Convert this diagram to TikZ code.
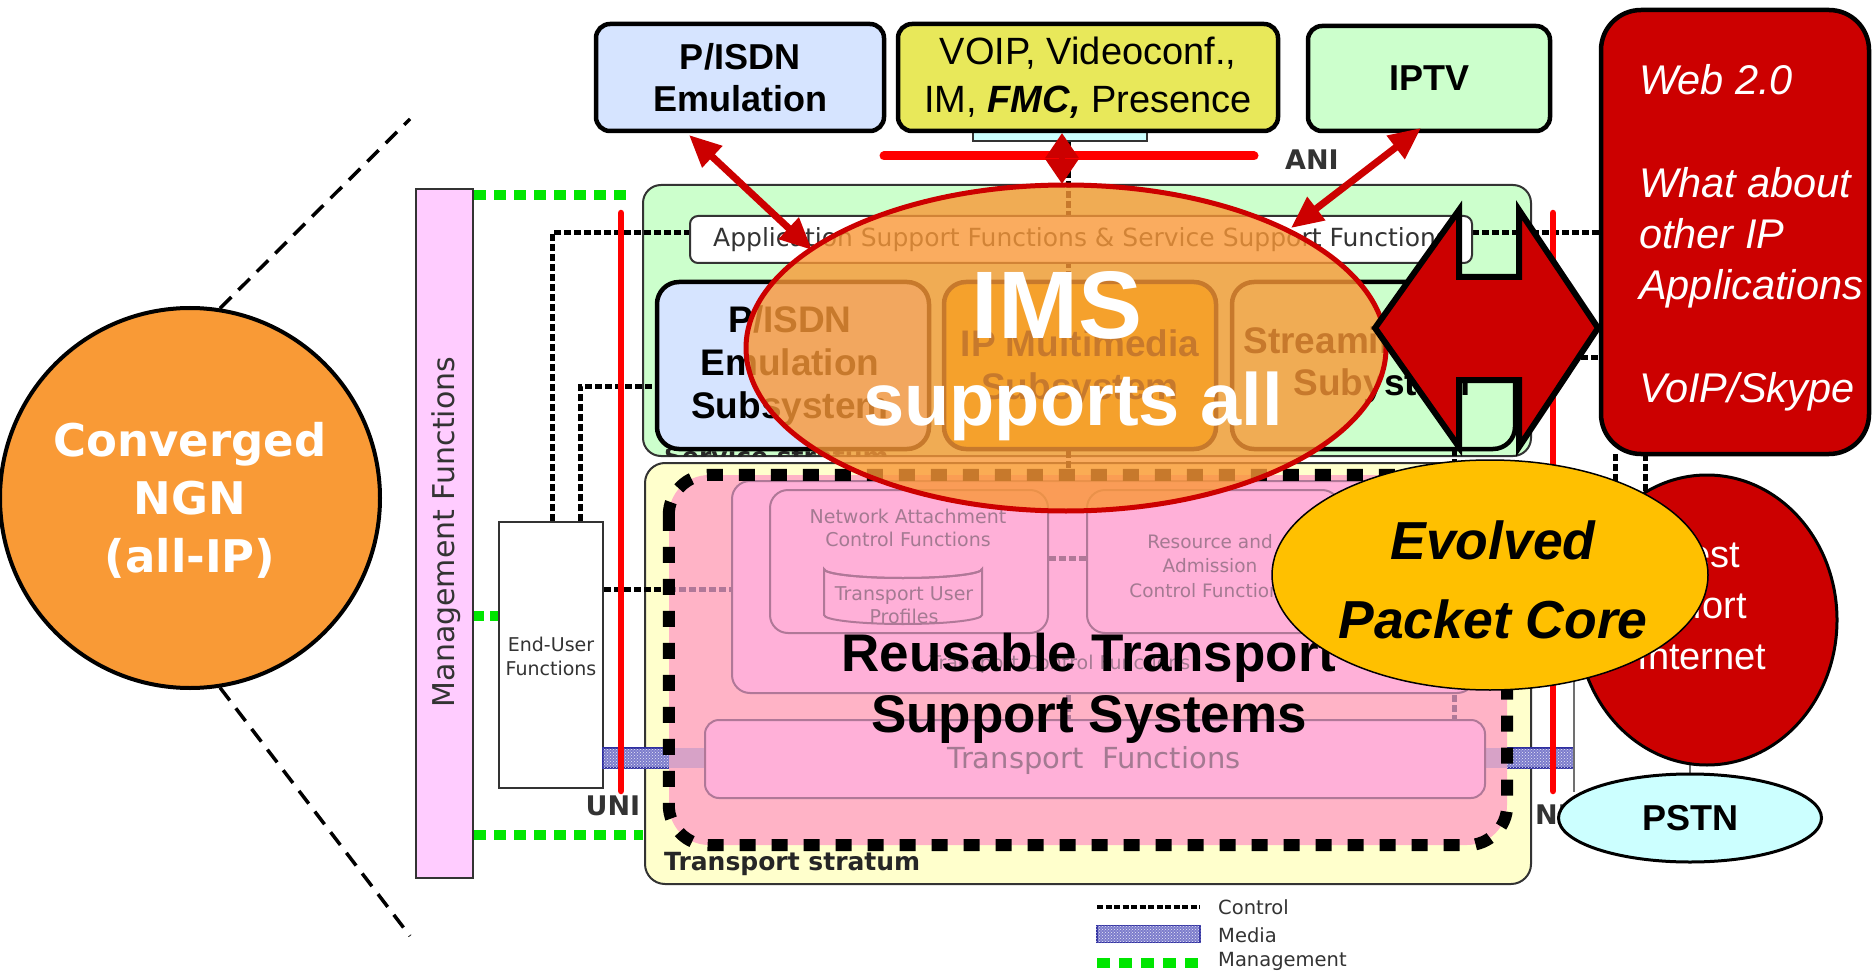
\documentclass[tikz,border=0pt]{standalone}
\usepackage{fontspec}
\setmainfont{Liberation Sans}
\newfontfamily\dvs{DejaVu Sans}
\usetikzlibrary{arrows.meta,shapes.geometric,shapes.misc,patterns}
\definecolor{ngnorange}{HTML}{F99A36}
\definecolor{mgmtpink}{HTML}{FFCCFF}
\definecolor{mgmtgreen}{HTML}{00E600}
\definecolor{svcgreen}{HTML}{CCFFCC}
\definecolor{isdnblue}{HTML}{D6E4FF}
\definecolor{voipyellow}{HTML}{E8E85A}
\definecolor{webred}{HTML}{CC0000}
\definecolor{trpyellow}{HTML}{FFFFCC}
\definecolor{rtpink}{HTML}{FFB3C6}
\definecolor{innerpink}{HTML}{FFB0D8}
\definecolor{mauve}{HTML}{B07898}
\definecolor{mauvetext}{HTML}{A47A92}
\definecolor{mediablue}{HTML}{7C7CCC}
\definecolor{mediaedge}{HTML}{2F2FA0}
\definecolor{imsorange}{HTML}{F99837}
\definecolor{imsbox}{HTML}{E6C800}
\definecolor{epcyellow}{HTML}{FFC000}
\definecolor{pstncyan}{HTML}{CCFFFF}
\definecolor{refred}{HTML}{FF0000}
\definecolor{dgray}{HTML}{333333}
\tikzset{
  topbox/.style={draw=black, line width=4.5pt, rounded corners=14pt, align=center, inner sep=0pt},
  subbox/.style={draw=black, line width=4.5pt, rounded corners=22pt, inner sep=0pt},
  ctrl/.style={draw=black, line width=5pt, dash pattern=on 7pt off 3pt},
  ctrlm/.style={draw=mauve, line width=5pt, dash pattern=on 7pt off 3pt},
  mgmtline/.style={draw=mgmtgreen, line width=10pt, dash pattern=on 12pt off 8pt},
  refline/.style={draw=refred, line width=6.5pt, line cap=round},
  redarrow/.style={draw=webred, line width=7pt, arrows={Triangle[length=32pt,width=28pt]-Triangle[length=32pt,width=28pt]}},
  zoomline/.style={draw=black, line width=3.5pt, dash pattern=on 16pt off 10pt},
  innerbox/.style={draw=mauve, fill=innerpink, line width=2pt, rounded corners=18pt, inner sep=0pt},
  graytxt/.style={font=\dvs\fontsize{19}{23}\selectfont, text=mauvetext, align=center, inner sep=0pt},
  mediabar/.style={fill=mediablue, draw=mediaedge, line width=1.5pt},
  mediadots/.style={pattern=crosshatch dots, pattern color=white!85!mediablue},
  bigbold/.style={font=\bfseries\fontsize{37}{43}\selectfont, align=center, inner sep=0pt},
  reflabel/.style={font=\dvs\bfseries\fontsize{27}{30}\selectfont, text=dgray, inner sep=0pt},
  legendtxt/.style={font=\dvs\fontsize{19.5}{22}\selectfont, text=dgray, anchor=west, inner sep=0pt},
  webtxt/.style={font=\itshape\fontsize{41.5}{51}\selectfont, text=white, anchor=base west, inner sep=0pt}
}
\begin{document}
\begin{tikzpicture}[x=1pt,y=-1pt]
\useasboundingbox (0,0) rectangle (1873,973);
\fill[white] (0,0) rectangle (1873,973);

% Converged NGN
\node[circle, draw=black, line width=4pt, fill=ngnorange, minimum size=380pt, inner sep=0pt] (ngn) at (190,498) {};
\coordinate (dtop) at (410,119);
\coordinate (dbot) at (410,936);
\draw[zoomline] (ngn.81) -- (dtop);
\draw[zoomline] (ngn.-81) -- (dbot);
\node[font=\dvs\bfseries\fontsize{45}{58}\selectfont, text=white, align=center, inner sep=0pt] (ngntext) at (190,500) {Converged\\NGN\\(all-IP)};

% Management functions
\node[draw=dgray, line width=2pt, fill=mgmtpink, minimum width=57pt, minimum height=689pt, inner sep=0pt] (mgmt) at (444.5,533.5) {};
\node[rotate=90, font=\dvs\fontsize{30}{32}\selectfont, text=dgray] (mgmtlabel) at (446,532) {Management Functions};

% strata
\node[draw=dgray, line width=2pt, fill=svcgreen, rounded corners=18pt, minimum width=888pt, minimum height=271pt, inner sep=0pt] (svc) at (1087,320.5) {};
\node[draw=dgray, line width=2pt, fill=trpyellow, rounded corners=20pt, minimum width=886pt, minimum height=421pt, inner sep=0pt] (trp) at (1088,673.5) {};
\node[reflabel, font=\dvs\bfseries\fontsize{25}{28}\selectfont, anchor=west, text=black!85] (trplabel) at (664,864) {Transport stratum};

% management lines
\coordinate (g1) at (633,195);
\coordinate (g3) at (643,835);
\draw[mgmtline] (mgmt.east |- g1) -- (g1);
\draw[mgmtline] (mgmt.east |- g3) -- (g3);

% end-user functions
\node[draw=dgray, line width=2pt, fill=white, chamfered rectangle, chamfered rectangle xsep=9pt, chamfered rectangle ysep=9pt, minimum width=104pt, minimum height=266pt, inner sep=0pt] (eu) at (551,655) {};
\node[font=\dvs\fontsize{19}{24}\selectfont, text=dgray, align=center, inner sep=0pt] (eutext) at (551,656) {End-User\\Functions};
\draw[mgmtline, dash pattern=on 10pt off 6pt] (mgmt.east |- 0,616) -- (eu.west |- 0,616);

% control lines (background)
\coordinate (c1) at (552,233);
\coordinate (c2) at (580,386);
\draw[ctrl] (eu.north -| c1) -- (c1) -- (690,233);
\draw[ctrl] (eu.north -| c2) -- (c2) -- (657,386);
\draw[ctrl] (eu.east |- 0,589) -- (669,589);
\coordinate (vtop) at (1068,141);
\draw[ctrl] (vtop) -- (1068,475);
\draw[ctrl] (1454,449) -- (1454,475);
\draw[ctrl] (1472,233) -- (1601,233);
\draw[ctrl] (1531,357) -- (1601,357);
\draw[ctrl] (1615,454) -- (1615,520);
\draw[ctrl] (1645,454) -- (1645,520);

% service stratum contents
\begin{scope}
\clip (655,449) rectangle (920,456);
\node[reflabel, font=\dvs\bfseries\fontsize{25}{28}\selectfont, anchor=north west, text=black!85] (svclabel) at (664,446) {Service stratum};
\end{scope}
\node[draw=dgray, line width=2pt, fill=white, rounded corners=8pt, minimum width=782pt, minimum height=47pt, inner sep=0pt, font=\dvs\fontsize{25}{28}\selectfont, text=dgray] (app) at (1081,239.5) {Application Support Functions \& Service Support Functions};
\node[subbox, fill=isdnblue, minimum width=272pt, minimum height=167pt] (pisdnsub) at (793,365.5) {};
\node[bigbold] (pisdnsubtext) at (790,366) {P/ISDN\\Emulation\\Subsystem};
\node[subbox, fill=imsbox, minimum width=272pt, minimum height=167pt] (imssub) at (1080,365.5) {};
\node[bigbold] (imssubtext) at (1080,368) {IP Multimedia\\Subsystem};
\node[subbox, fill=svcgreen, minimum width=283pt, minimum height=167pt] (strsub) at (1373.5,365.5) {};
\node[bigbold] (strtext1) at (1334,344) {Streaming};
\node[bigbold] (strtext2) at (1382,386) {Subystem};

% media bars
\draw[mediabar] (603,748) rectangle (705,768);
\fill[mediadots] (603,748) rectangle (705,768);
\draw[mediabar] (1485,748) rectangle (1574,768);
\fill[mediadots] (1485,748) rectangle (1574,768);
\draw[dgray!70, line width=2pt] (1574,680) -- (1574,792);

% reusable transport support systems
\node[fill=rtpink, rounded corners=40pt, minimum width=838pt, minimum height=370pt, inner sep=0pt] (rts) at (1088,660) {};
\fill[mediablue, fill opacity=0.3] (669,748) rectangle (705,768);
\fill[mediablue, fill opacity=0.3] (1485,748) rectangle (1507,768);
\draw[ctrlm] (669,589) -- (732,589);
\draw[ctrlm] (1068,475) -- (1068,720);
\draw[ctrlm] (1454,475) -- (1454,720);
\node[innerbox, minimum width=743pt, minimum height=212pt] (tcf) at (1103.5,587) {};
\node[graytxt] (tcftext) at (1060,664) {Transport Control Functions};
\node[innerbox, minimum width=278pt, minimum height=143pt] (nacf) at (909,561.5) {};
\node[innerbox, minimum width=253pt, minimum height=143pt] (racf) at (1213.5,561.5) {};
\draw[ctrlm] (nacf.east |- 0,558) -- (racf.west |- 0,558);
\node[graytxt] (nacftext) at (908,528) {Network Attachment\\Control Functions};
% transport user profiles (cylinder)
\filldraw[draw=mauve, fill=innerpink, line width=2pt] (824,569) -- (824,615) arc[start angle=180, end angle=0, x radius=79, y radius=9] -- (982,569) arc[start angle=0, end angle=180, x radius=79, y radius=9] -- cycle;
\draw[mauve, line width=2pt] (824,569) arc[start angle=180, end angle=0, x radius=79, y radius=9];
\node[graytxt] (tuptext) at (904,605) {Transport User\\Profiles};
\node[graytxt, font=\dvs\fontsize{18.5}{24.5}\selectfont] (racftext) at (1210,566) {Resource and\\Admission\\Control Functions};
\node[innerbox, rounded corners=14pt, minimum width=780pt, minimum height=78pt] (tf) at (1095,759) {};
\node[graytxt, font=\dvs\fontsize{29}{32}\selectfont] (tftext) at (1094,760) {Transport\ \ Functions};
\draw[black, line width=12pt, dash pattern=on 16pt off 16pt, rounded corners=40pt] (rts.north west) rectangle (rts.south east);
\node[font=\bfseries\fontsize{53}{61}\selectfont, align=center, inner sep=0pt] (rtstext) at (1089,688) {Reusable Transport\\Support Systems};

% reference points
\draw[refline] (621,213) -- (621,791);
\draw[refline] (1553,213) -- (1553,791);
\node[reflabel] (uni) at (613,806) {UNI};
\node[reflabel, anchor=west] (nni) at (1535,815) {NNI};

% top boxes
\draw[draw=dgray, line width=2pt, fill=pstncyan] (973,129) rectangle (1147,141);
\draw[refline, line width=9pt] (884,156) -- (1254,156);
\node[reflabel] (ani) at (1312,160) {ANI};
\node[topbox, fill=isdnblue, minimum width=288pt, minimum height=107pt, font=\bfseries\fontsize{36}{42}\selectfont] (pisdn) at (740,77.5) {P/ISDN\\Emulation};
\node[topbox, fill=voipyellow, minimum width=380pt, minimum height=107pt, font=\fontsize{38}{48}\selectfont] (voip) at (1088,77.5) {VOIP, Videoconf.,\\IM, \textbf{\textit{FMC,}} Presence};
\node[topbox, fill=svcgreen, minimum width=242pt, minimum height=105pt, font=\bfseries\fontsize{36}{42}\selectfont] (iptv) at (1429,78.5) {IPTV};

% IMS overlay
\node[ellipse, draw=webred, line width=5pt, fill=imsorange, fill opacity=0.8, minimum width=640pt, minimum height=326pt, inner sep=0pt] (ims) at (1066,348) {};
\node[text=white, font=\bfseries\fontsize{96}{96}\selectfont, inner sep=0pt] (imstitle) at (1057,305) {IMS};
\node[text=white, font=\bfseries\fontsize{74}{80}\selectfont, inner sep=0pt] (imssub2) at (1073,406) {supports all};

% red arrows
\coordinate (a1s) at (689,135);
\coordinate (a1e) at (812,250);
\coordinate (a2s) at (1421,128);
\coordinate (a2e) at (1291,228);
\coordinate (a3s) at (1062,133);
\coordinate (a3e) at (1062,184);
\draw[redarrow] (a1s) -- (a1e);
\draw[redarrow] (a2s) -- (a2e);
\draw[draw=webred, line width=6pt, arrows={Triangle[length=25pt,width=32pt]-Triangle[length=25pt,width=32pt]}] (a3s) -- (a3e);

% big block arrow
\draw[fill=webred, draw=black, line width=6pt] (1459,210) -- (1459,277) -- (1519,277) -- (1519,210) -- (1598,328) -- (1519,447) -- (1519,380) -- (1459,380) -- (1459,447) -- (1375,328) -- cycle;

% web 2.0 box
\node[draw=black, line width=4.5pt, fill=webred, rounded corners=40pt, minimum width=268pt, minimum height=444pt, inner sep=0pt] (web) at (1735,232) {};
\node[webtxt] (w1) at (1639,95) {Web 2.0};
\node[webtxt] (w2) at (1639,198) {What about};
\node[webtxt] (w3) at (1639,249) {other IP};
\node[webtxt] (w4) at (1639,300) {Applications};
\node[webtxt] (w5) at (1639,402) {VoIP/Skype};

% best effort internet and PSTN
\node[ellipse, minimum width=263pt, minimum height=88pt, inner sep=0pt] (pstnpos) at (1690,818) {};
\node[ellipse, minimum width=260pt, minimum height=290pt, inner sep=0pt] (hostpos) at (1707,620) {};
\draw[dgray!70, line width=2pt] (pstnpos.north) -- (pstnpos.north |- hostpos.center);
\node[ellipse, draw=black, line width=3pt, fill=webred, minimum width=260pt, minimum height=290pt, inner sep=0pt] (host) at (1707,620) {};
\node[text=white, font=\fontsize{38}{51}\selectfont, align=center, inner sep=0pt] (hosttext) at (1702,606) {Best\\Effort\\Internet};
\node[ellipse, draw=black, line width=3pt, fill=pstncyan, minimum width=263pt, minimum height=88pt, inner sep=0pt, font=\bfseries\fontsize{36}{42}\selectfont] (pstn) at (1690,818) {PSTN};

% EPC
\node[ellipse, draw=black, line width=1.5pt, fill=epcyellow, minimum width=436pt, minimum height=230pt, inner sep=0pt] (epc) at (1490,575) {};
\node[font=\bfseries\itshape\fontsize{53.5}{79}\selectfont, align=center, inner sep=0pt] (epctext) at (1493,580) {Evolved\\Packet Core};

% legend
\coordinate (lc1) at (1097,907);
\coordinate (lc2) at (1200,907);
\draw[draw=black, line width=4pt, dash pattern=on 6pt off 2.5pt] (lc1) -- (lc2);
\node[legendtxt] (lgc) at (1218,907) {Control};
\node[mediabar, minimum width=103pt, minimum height=17pt, inner sep=0pt] (lgmbar) at (1148.5,934) {};
\fill[mediadots] (lgmbar.north west) rectangle (lgmbar.south east);
\node[legendtxt] (lgm) at (1218,935) {Media};
\coordinate (lg1) at (1097,963);
\coordinate (lg2) at (1200,963);
\draw[mgmtline, dash pattern=on 13pt off 9pt] (lg1) -- (lg2);
\node[legendtxt] (lgmg) at (1218,961) {Management};
\end{tikzpicture}
\end{document}
